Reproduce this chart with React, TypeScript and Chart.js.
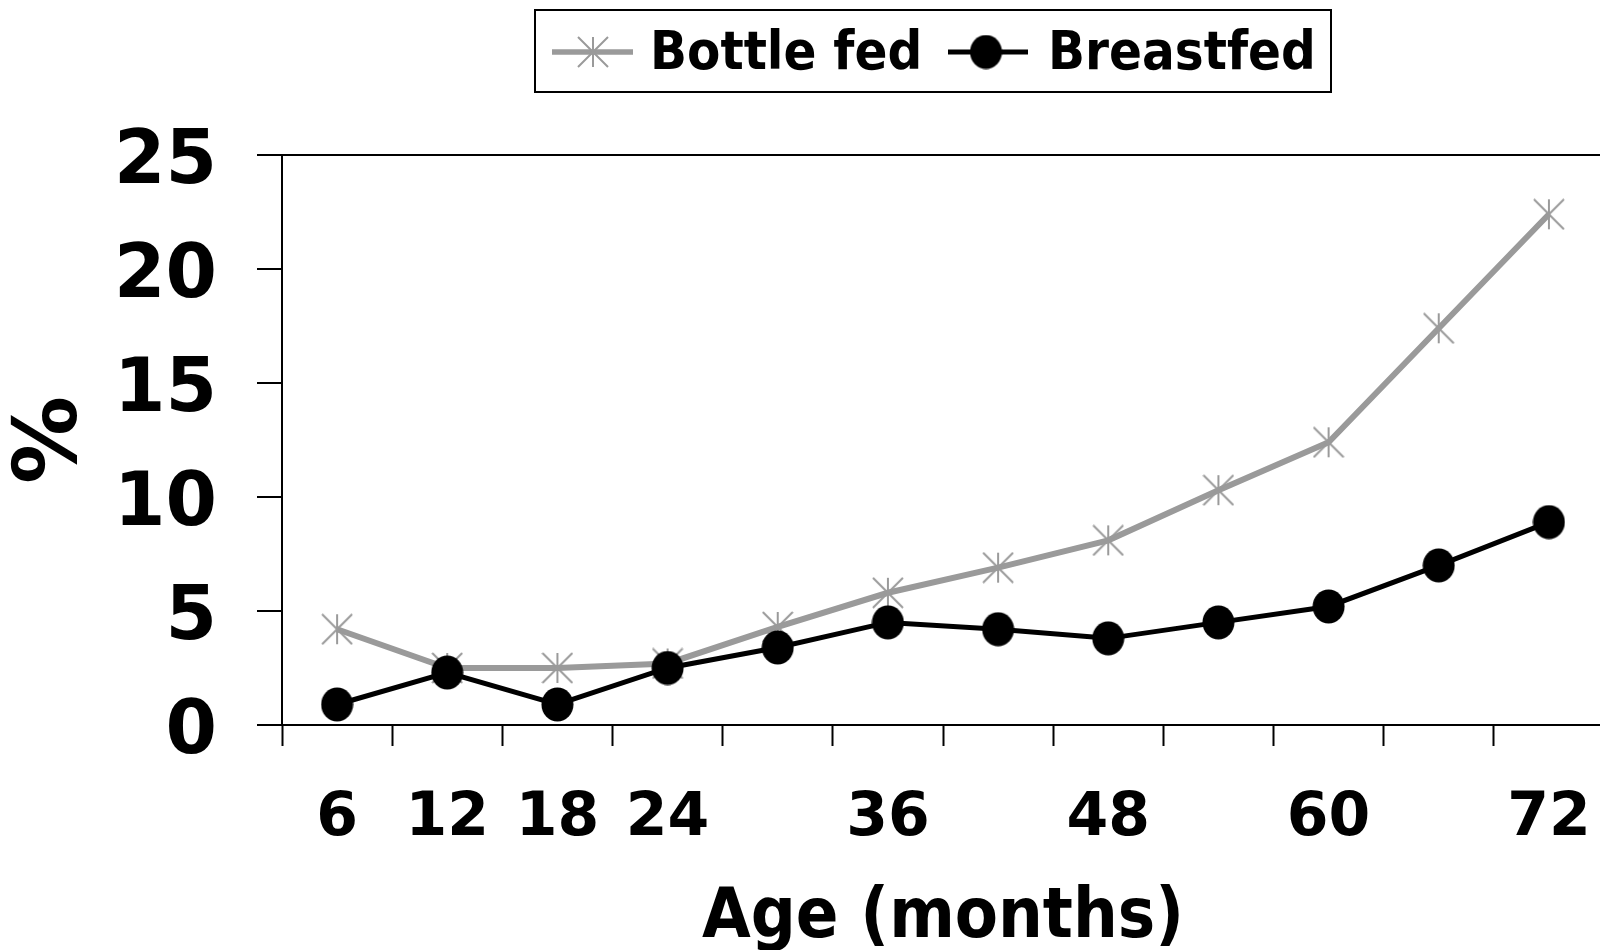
import React, { useEffect, useRef } from 'react';
import { Chart, registerables } from 'chart.js';

Chart.register(...registerables);

const categories = ['6', '12', '18', '24', '30', '36', '42', '48', '54', '60', '66', '72'];
const xTickLabels = ['6', '12', '18', '24', '', '36', '', '48', '', '60', '', '72'];
const bottleFed = [4.2, 2.5, 2.5, 2.7, 4.3, 5.8, 6.9, 8.1, 10.3, 12.4, 17.4, 22.4];
const breastfed = [0.9, 2.3, 0.9, 2.5, 3.4, 4.5, 4.2, 3.8, 4.5, 5.2, 7.0, 8.9];
const seriesLabels = ['Bottle fed', 'Breastfed'];
const yMin = 0;
const yMax = 25;
const yStep = 5;

const FONT = '"DejaVu Sans", Verdana, sans-serif';
const FONT_C = '"DejaVu Sans Condensed", "DejaVu Sans", sans-serif';
const GRAY = '#9a9a9a';

function makeAsterisk(size: number, color: string, lw: number) {
  const c = document.createElement('canvas');
  c.width = size;
  c.height = size;
  const g = c.getContext('2d')!;
  g.strokeStyle = color;
  g.lineWidth = lw;
  const m = 1;
  g.beginPath();
  g.moveTo(size / 2, m);
  g.lineTo(size / 2, size - m);
  g.moveTo(m, m);
  g.lineTo(size - m, size - m);
  g.moveTo(size - m, m);
  g.lineTo(m, size - m);
  g.stroke();
  return c;
}

function makeEllipse(w: number, h: number, color: string) {
  const c = document.createElement('canvas');
  c.width = w;
  c.height = h;
  const g = c.getContext('2d')!;
  g.fillStyle = color;
  g.beginPath();
  g.ellipse(w / 2, h / 2, w / 2 - 0.5, h / 2 - 0.5, 0, 0, Math.PI * 2);
  g.fill();
  return c;
}

export default function App() {
  const ref = useRef<HTMLCanvasElement | null>(null);

  useEffect(() => {
    if (!ref.current) return;
    const star = makeAsterisk(32, GRAY, 2);
    const dot = makeEllipse(33, 35, '#000');

    const legendPlugin = {
      id: 'boxLegend',
      afterDraw(chart: any) {
        const ctx = chart.ctx;
        const ds = chart.data.datasets;
        ctx.save();
        ctx.strokeStyle = '#000';
        ctx.lineWidth = 2;
        ctx.strokeRect(535, 10, 796, 82);
        const yLine = 52;
        ctx.font = `bold 54px ${FONT_C}`;
        ctx.textBaseline = 'middle';
        ctx.textAlign = 'left';
        ctx.fillStyle = '#000';
        ctx.strokeStyle = GRAY;
        ctx.lineWidth = 5.5;
        ctx.beginPath();
        ctx.moveTo(552, yLine);
        ctx.lineTo(633, yLine);
        ctx.stroke();
        ctx.drawImage(star, 593 - 16, yLine - 16);
        ctx.fillText(ds[0].label, 650, 55);
        ctx.strokeStyle = '#000';
        ctx.lineWidth = 5;
        ctx.beginPath();
        ctx.moveTo(948, yLine);
        ctx.lineTo(1028, yLine);
        ctx.stroke();
        ctx.drawImage(dot, 986 - 16.5, yLine - 17.5);
        ctx.fillText(ds[1].label, 1048, 55);
        ctx.restore();
      },
    };

    const chart = new Chart(ref.current, {
      type: 'line',
      data: {
        labels: categories,
        datasets: [
          {
            label: seriesLabels[0],
            data: bottleFed,
            borderColor: GRAY,
            backgroundColor: GRAY,
            borderWidth: 6,
            pointStyle: star as any,
            pointRadius: 16,
            order: 1,
            tension: 0,
          },
          {
            label: seriesLabels[1],
            data: breastfed,
            borderColor: '#000',
            backgroundColor: '#000',
            borderWidth: 5,
            pointStyle: dot as any,
            pointRadius: 17,
            order: 0,
            tension: 0,
          },
        ],
      },
      options: {
        animation: false,
        responsive: true,
        maintainAspectRatio: false,
        layout: { padding: { left: 0, right: 36, top: 155, bottom: 0 } },
        plugins: {
          legend: { display: false },
          tooltip: { enabled: false },
        },
        scales: {
          x: {
            type: 'category',
            offset: true,
            grid: {
              offset: true,
              drawOnChartArea: false,
              drawTicks: true,
              tickLength: 21,
              tickColor: '#000',
              tickWidth: 2,
              color: '#000',
            },
            border: { display: true, color: '#000', width: 2 },
            ticks: {
              autoSkip: false,
              maxRotation: 0,
              minRotation: 0,
              padding: 37,
              color: '#000',
              font: { family: FONT, size: 60, weight: 'bold' },
              callback: (_v: any, i: number) => xTickLabels[i],
            },
            title: {
              display: true,
              text: 'Age (months)',
              color: '#000',
              font: { family: FONT_C, size: 70, weight: 'bold', lineHeight: 0.8 },
              padding: { top: 0, bottom: 3 },
            },
            afterFit: (s: any) => {
              s.height = 225;
            },
          },
          y: {
            min: yMin,
            max: yMax,
            ticks: {
              stepSize: yStep,
              padding: 40,
              labelOffset: 9,
              color: '#000',
              font: { family: FONT, size: 74, weight: 'bold' },
            },
            grid: {
              color: (c: any) => (c.tick && c.tick.value === yMax ? '#000' : 'rgba(0,0,0,0)'),
              lineWidth: 2,
              drawTicks: true,
              tickLength: 25,
              tickColor: '#000',
              tickWidth: 2,
            },
            border: { display: true, color: '#000', width: 2 },
            title: {
              display: true,
              text: '%',
              color: '#000',
              font: { family: FONT, size: 88, weight: 'bold', lineHeight: 1 },
              padding: { top: 9, bottom: 0 },
            },
            afterFit: (s: any) => {
              s.width = 282;
            },
          },
        },
      },
      plugins: [legendPlugin],
    } as any);
    return () => chart.destroy();
  }, []);

  return (
    <div
      style={{
        position: 'fixed',
        left: 0,
        top: 0,
        width: 1600,
        height: 950,
        overflow: 'hidden',
        background: '#fff',
      }}
    >
      <div style={{ position: 'relative', width: 1640, height: 950 }}>
        <canvas ref={ref} />
      </div>
    </div>
  );
}
